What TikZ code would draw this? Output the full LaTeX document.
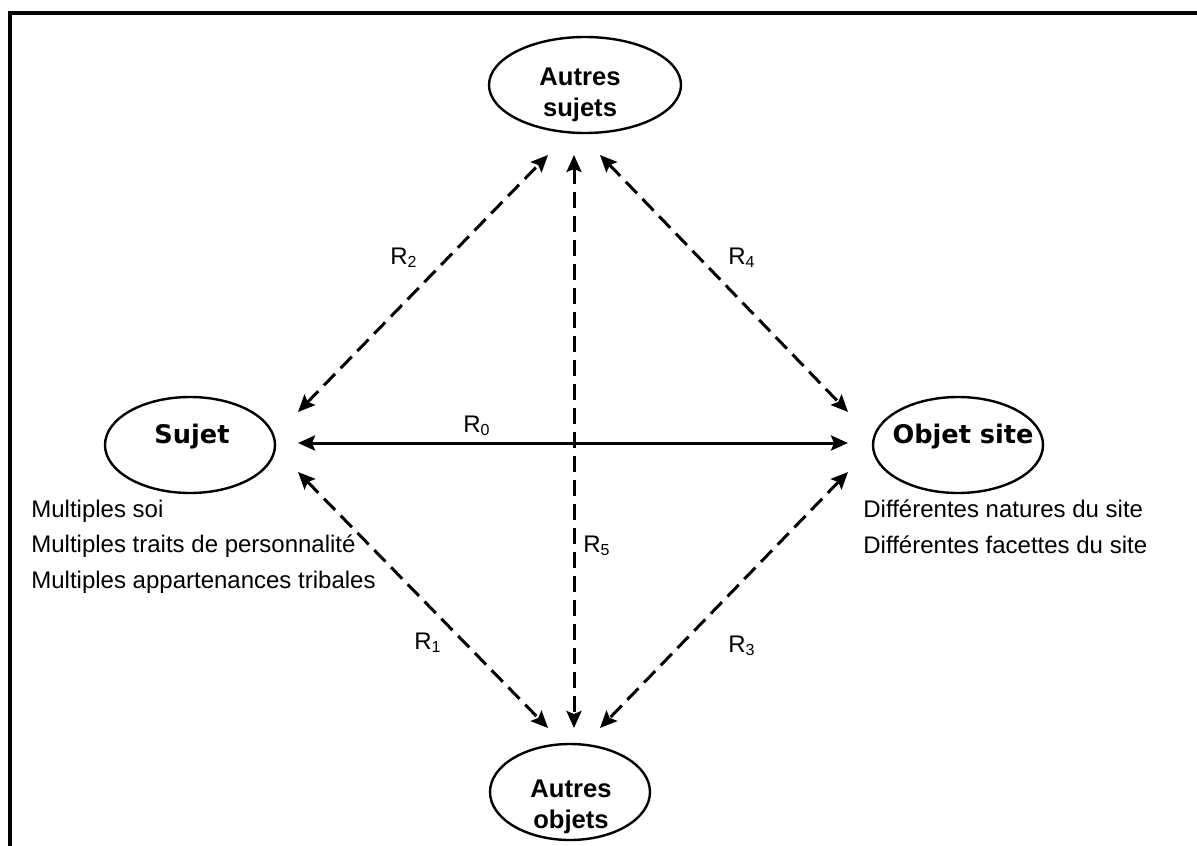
\documentclass[tikz,border=0pt]{standalone}
\usepackage{fontspec}
\setmainfont{Liberation Sans}
\newfontfamily\dvs{DejaVu Sans}
\usetikzlibrary{shapes.geometric,arrows.meta}
\begin{document}
\begin{tikzpicture}[x=0.5pt,y=-0.5pt,
  ell/.style={draw,ellipse,line width=1.2pt,inner sep=0pt},
  hd/.style={inner sep=0pt,font=\dvs\bfseries\fontsize{12.8}{15}\selectfont},
  bd/.style={inner sep=0pt,align=center,font=\bfseries\fontsize{12.8}{15.5}\selectfont},
  txt/.style={inner sep=0pt,align=left,anchor=base west,font=\fontsize{12}{17.75}\selectfont},
  lab/.style={inner sep=0pt,anchor=base west,font=\fontsize{12}{14}\selectfont},
  rel/.style={line width=1.5pt,
    {Stealth[length=8.5pt,width=7.5pt,inset=1.5pt]}-{Stealth[length=8.5pt,width=7.5pt,inset=1.5pt]}},
  drel/.style={rel,dash pattern=on 8pt off 4pt}
]
\useasboundingbox (0,0) rectangle (1197,845);
% frame (cut at right and bottom)
\draw[line width=1.6pt] (10,850) -- (10,13) -- (1202,13);

% ellipses
\node[ell,minimum width=96pt,minimum height=48pt] (asuj) at (585,85) {};
\node[ell,minimum width=85pt,minimum height=48pt] (suj) at (190,445) {};
\node[ell,minimum width=85pt,minimum height=48pt] (osite) at (958,445) {};
\node[ell,minimum width=80pt,minimum height=48pt] (aobj) at (570,792) {};

% ellipse texts (base anchor = last line)
\node[bd,anchor=base] (tasuj) at (580,117) {Autres\\sujets};
\node[hd,anchor=base] (tsuj) at (192,443) {Sujet};
\node[hd,anchor=base] (tosite) at (963,443) {Objet site};
\node[bd,anchor=base] (taobj) at (571,828) {Autres\\objets};

% connector ends
\coordinate (sT) at (298,412);
\coordinate (sM) at (298,443);
\coordinate (sB) at (298,472);
\coordinate (oT) at (848,412);
\coordinate (oM) at (848,443);
\coordinate (oB) at (848,472);
\coordinate (aL) at (548,155);
\coordinate (aM) at (574,155);
\coordinate (aR) at (600,155);
\coordinate (bL) at (548,728);
\coordinate (bM) at (574,728);
\coordinate (bR) at (600,728);

% connectors
\draw[rel] (sM) -- (oM);
\draw[drel] (sT) -- (aL);
\draw[drel] (aR) -- (oT);
\draw[drel] (aM) -- (bM);
\draw[drel] (sB) -- (bL);
\draw[drel] (oB) -- (bR);

% labels
\node[lab] (r0) at (463,432) {R\textsubscript{0}};
\node[lab] (r2) at (390,264) {R\textsubscript{2}};
\node[lab] (r4) at (728,264) {R\textsubscript{4}};
\node[lab] (r5) at (583,552) {R\textsubscript{5}};
\node[lab] (r1) at (414,649) {R\textsubscript{1}};
\node[lab] (r3) at (728,652) {R\textsubscript{3}};

% side texts (base anchor = last line)
\node[txt] (lsuj) at (31,588) {Multiples soi\\Multiples traits de personnalité\\Multiples appartenances tribales};
\node[txt] (losite) at (863,553) {Différentes natures du site\\Différentes facettes du site};
\end{tikzpicture}
\end{document}
